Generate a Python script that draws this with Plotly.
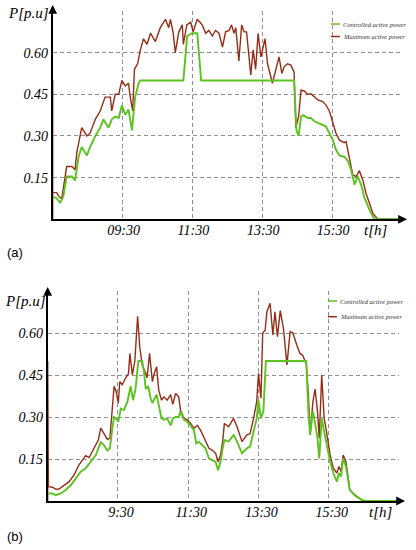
import plotly.graph_objects as go

# ---------------- data (hours, p.u.) ----------------
# (a) maximum active power
T_A_MAX = [7.5, 7.5, 7.5, 7.61, 7.69, 7.76, 7.90, 8.05, 8.14, 8.19, 8.33, 8.48, 8.57, 8.72, 8.86, 9.00,
           9.15, 9.19, 9.29, 9.39, 9.48, 9.58, 9.67, 9.72, 9.79, 9.84, 9.93, 10.01, 10.10, 10.20, 10.30,
           10.44, 10.58, 10.73, 10.82, 10.87, 10.95, 11.01, 11.11, 11.21, 11.24, 11.34, 11.45, 11.52,
           11.64, 11.78, 11.88, 11.97, 12.07, 12.16, 12.26, 12.36, 12.45, 12.55, 12.62, 12.69, 12.74,
           12.83, 12.91, 12.98, 13.05, 13.17, 13.24, 13.31, 13.38, 13.46, 13.52, 13.58, 13.65, 13.74,
           13.79, 13.89, 13.98, 14.06, 14.13, 14.22, 14.32, 14.41, 14.46, 14.54, 14.61, 14.70, 14.80,
           14.89, 14.99, 15.09, 15.23, 15.32, 15.42, 15.52, 15.61, 15.71, 15.85, 15.90, 15.99, 16.09,
           16.19, 16.28, 16.38, 16.47, 16.67, 16.81, 17.53]
P_A_MAX = [0.0, 0.50, 0.096, 0.096, 0.08, 0.075, 0.19, 0.19, 0.178, 0.24, 0.33, 0.30, 0.31, 0.36, 0.39, 0.44,
           0.44, 0.39, 0.45, 0.45, 0.50, 0.48, 0.49, 0.44, 0.39, 0.54, 0.56, 0.61, 0.65, 0.63, 0.67,
           0.64, 0.69, 0.72, 0.69, 0.72, 0.67, 0.60, 0.675, 0.70, 0.63, 0.70, 0.71, 0.675,
           0.72, 0.70, 0.67, 0.68, 0.66, 0.68, 0.67, 0.62, 0.675, 0.68, 0.70, 0.67, 0.69,
           0.57, 0.70, 0.675, 0.675, 0.52, 0.61, 0.54, 0.67, 0.585, 0.62, 0.65, 0.56, 0.515,
           0.49, 0.54, 0.585, 0.525, 0.55, 0.56, 0.555, 0.53, 0.33, 0.37, 0.465, 0.462, 0.45,
           0.452, 0.44, 0.43, 0.424, 0.412, 0.39, 0.35, 0.31, 0.285, 0.276, 0.28, 0.225, 0.16,
           0.154, 0.175, 0.14, 0.094, 0.02, 0.0, 0.0]

# (a) controlled active power
T_A_CTL = [7.5, 7.61, 7.71, 7.80, 7.90, 8.05, 8.14, 8.24, 8.33, 8.48, 8.57, 8.72, 8.86, 8.95, 9.10, 9.19,
           9.29, 9.39, 9.48, 9.58, 9.67, 9.77, 9.86, 9.96, 10.01, 11.24, 11.35, 11.49, 11.64, 11.75,
           14.41, 14.48, 14.54, 14.61, 14.67, 14.80, 14.89, 14.99, 15.09, 15.23, 15.32, 15.42, 15.52,
           15.61, 15.71, 15.85, 15.95, 16.04, 16.14, 16.23, 16.33, 16.42, 16.57, 16.71, 17.53]
P_A_CTL = [0.082, 0.076, 0.06, 0.08, 0.154, 0.154, 0.14, 0.225, 0.26, 0.23, 0.26, 0.30, 0.33, 0.36, 0.33, 0.36,
           0.37, 0.365, 0.41, 0.376, 0.395, 0.32, 0.44, 0.49, 0.50, 0.50, 0.66, 0.67, 0.67, 0.50,
           0.50, 0.32, 0.30, 0.37, 0.375, 0.365, 0.365, 0.353, 0.347, 0.34, 0.335, 0.31, 0.285,
           0.25, 0.23, 0.225, 0.21, 0.18, 0.125, 0.155, 0.125, 0.08, 0.034, 0.0, 0.0]

# (b) maximum active power
T_B_MAX = [7.5, 7.5, 7.52, 7.64, 7.73, 7.82, 7.97, 8.11, 8.25, 8.39, 8.49, 8.58, 8.68, 8.82, 8.94, 9.01,
           9.10, 9.20, 9.27, 9.34, 9.39, 9.45, 9.51, 9.55, 9.62, 9.72, 9.80, 9.84, 9.91, 9.98, 10.06,
           10.12, 10.19, 10.29, 10.33, 10.40, 10.48, 10.52, 10.60, 10.66, 10.74, 10.81, 10.90, 11.00,
           11.06, 11.14, 11.23, 11.28, 11.38, 11.47, 11.57, 11.66, 11.76, 11.85, 11.99, 12.09, 12.18,
           12.28, 12.35, 12.42, 12.48, 12.53, 12.65, 12.79, 12.89, 13.03, 13.17, 13.26, 13.36, 13.45,
           13.50, 13.57, 13.62, 13.69, 13.74, 13.83, 13.91, 13.97, 14.04, 14.12, 14.21, 14.31, 14.40,
           14.48, 14.59, 14.68, 14.76, 14.86, 14.92, 14.97, 15.05, 15.11, 15.18, 15.23, 15.30, 15.37,
           15.42, 15.54, 15.63, 15.73, 15.79, 15.85, 15.91, 15.99, 16.10, 16.25, 16.48, 17.53]
P_B_MAX = [0.0, 0.50, 0.051, 0.049, 0.042, 0.043, 0.057, 0.069, 0.093, 0.129, 0.146, 0.162, 0.155, 0.188, 0.218, 0.26,
           0.24, 0.22, 0.224, 0.32, 0.41, 0.39, 0.35, 0.426, 0.415, 0.44, 0.455, 0.527, 0.45, 0.50, 0.66,
           0.55, 0.486, 0.455, 0.44, 0.527, 0.426, 0.45, 0.48, 0.396, 0.36, 0.372, 0.36, 0.38,
           0.345, 0.384, 0.372, 0.325, 0.295, 0.29, 0.277, 0.26, 0.27, 0.253, 0.218, 0.188, 0.182,
           0.17, 0.14, 0.164, 0.212, 0.277, 0.265, 0.295, 0.265, 0.212, 0.236, 0.24, 0.295, 0.355,
           0.456, 0.367, 0.60, 0.61, 0.676, 0.706, 0.593, 0.676, 0.587, 0.68, 0.617, 0.486, 0.605,
           0.60, 0.557, 0.527, 0.52, 0.49, 0.378, 0.236, 0.355, 0.40, 0.32, 0.224, 0.45, 0.295,
           0.26, 0.164, 0.117, 0.10, 0.123, 0.105, 0.164, 0.14, 0.039, 0.021, 0.0, 0.0]

# (b) controlled active power
T_B_CTL = [7.52, 7.64, 7.73, 7.87, 8.01, 8.16, 8.30, 8.44, 8.58, 8.72, 8.87, 9.01, 9.10, 9.20, 9.27, 9.34,
           9.39, 9.45, 9.51, 9.58, 9.67, 9.77, 9.86, 9.93, 10.00, 10.08, 10.19, 10.24, 10.29, 10.36,
           10.43, 10.48, 10.52, 10.60, 10.66, 10.74, 10.81, 10.90, 11.00, 11.06, 11.14, 11.23, 11.28,
           11.38, 11.47, 11.57, 11.66, 11.73, 11.80, 11.90, 11.99, 12.09, 12.18, 12.28, 12.35, 12.42,
           12.48, 12.53, 12.65, 12.79, 12.89, 13.03, 13.17, 13.26, 13.36, 13.45, 13.50, 13.57, 13.64,
           13.71, 14.86, 14.92, 14.97, 15.05, 15.11, 15.18, 15.23, 15.30, 15.37, 15.44, 15.54, 15.63,
           15.73, 15.79, 15.85, 15.91, 15.99, 16.10, 16.25, 16.44, 16.58, 17.53]
P_B_CTL = [0.027, 0.027, 0.021, 0.027, 0.039, 0.057, 0.081, 0.105, 0.117, 0.14, 0.164, 0.21, 0.20, 0.18, 0.188, 0.26,
           0.30, 0.295, 0.283, 0.33, 0.325, 0.355, 0.41, 0.36, 0.40, 0.50, 0.50, 0.462, 0.40, 0.41,
           0.366, 0.35, 0.36, 0.38, 0.343, 0.295, 0.29, 0.295, 0.27, 0.295, 0.30, 0.30, 0.32,
           0.29, 0.283, 0.27, 0.253, 0.206, 0.212, 0.20, 0.188, 0.152, 0.146, 0.14, 0.11, 0.14,
           0.188, 0.218, 0.212, 0.236, 0.212, 0.17, 0.188, 0.194, 0.248, 0.295, 0.36, 0.295, 0.32,
           0.50, 0.50, 0.32, 0.236, 0.32, 0.28, 0.224, 0.152, 0.295, 0.248, 0.20, 0.14, 0.10,
           0.069, 0.10, 0.087, 0.152, 0.123, 0.039, 0.019, 0.004, 0.0, 0.0]

X_TICKS = [9.5, 11.5, 13.5, 15.5, 17.5]
X_LABELS_A = ["09:30", "11:30", "13:30", "15:30", ""]
X_LABELS_B = ["9:30", "11:30", "13:30", "15:30", ""]
Y_TICKS = [0.15, 0.30, 0.45, 0.60, 0.75]
Y_LABELS = ["0.15", "0.30", "0.45", "0.60", ""]
SERIES_NAMES = ["Controlled active power", "Maximum active power"]

# ---------------- styling ----------------
W, H = 416, 550
RED = "#962c16"
GREEN = "#5cc31e"
GRID = "#8f8f8f"
GRIDDASH = "4px,3px"
SERIF = "Liberation Serif"

def px_x(p):
    return p / W

def px_y(p):
    return 1 - p / H

fig = go.Figure()

fig.add_trace(go.Scatter(x=T_A_MAX, y=P_A_MAX, mode="lines", name=SERIES_NAMES[1],
                         line=dict(color=RED, width=1.4), xaxis="x", yaxis="y", showlegend=False))
fig.add_trace(go.Scatter(x=T_A_CTL, y=P_A_CTL, mode="lines", name=SERIES_NAMES[0],
                         line=dict(color=GREEN, width=1.9), xaxis="x", yaxis="y", showlegend=False))
fig.add_trace(go.Scatter(x=T_B_MAX, y=P_B_MAX, mode="lines", name=SERIES_NAMES[1],
                         line=dict(color=RED, width=1.4), xaxis="x2", yaxis="y2", showlegend=False))
fig.add_trace(go.Scatter(x=T_B_CTL, y=P_B_CTL, mode="lines", name=SERIES_NAMES[0],
                         line=dict(color=GREEN, width=1.9), xaxis="x2", yaxis="y2", showlegend=False))

tickfont = dict(family=SERIF, size=14, style="italic", color="black")
common_x = dict(range=[7.5, 17.5], tickvals=X_TICKS, showgrid=True, gridcolor=GRID, griddash=GRIDDASH,
                gridwidth=1, showline=True, linecolor="black", linewidth=2, zeroline=False,
                ticks="", tickfont=tickfont, fixedrange=True, automargin=False,
                ticklabelstandoff=-3)
common_y = dict(range=[0, 0.75], tickvals=Y_TICKS, ticktext=Y_LABELS, showgrid=True, gridcolor=GRID,
                griddash=GRIDDASH, gridwidth=1, showline=True, linecolor="black", linewidth=2,
                zeroline=False, ticks="", tickfont=tickfont, fixedrange=True, automargin=False)

# pixel geometry of the two panels
A_L, A_R, A_B, A_T = 52.7, 402.0, 219.3, 11.0
B_L, B_R, B_B, B_T = 47.7, 399.0, 501.0, 291.0

fig.update_layout(
    width=W, height=H, margin=dict(l=0, r=0, t=0, b=0),
    paper_bgcolor="white", plot_bgcolor="white",
    xaxis=dict(domain=[px_x(A_L), px_x(A_R)], anchor="y", ticktext=X_LABELS_A,
               ticklabelshift=1, **common_x),
    yaxis=dict(domain=[px_y(A_B), px_y(A_T)], anchor="x", **common_y),
    xaxis2=dict(domain=[px_x(B_L), px_x(B_R)], anchor="y2", ticktext=X_LABELS_B,
                ticklabelshift=3, **common_x),
    yaxis2=dict(domain=[px_y(B_B), px_y(B_T)], anchor="x2", **common_y),
)

ann = []
# axis arrows
for (xl, yb, yt_tip, xr_tip) in [(A_L, A_B, 5, 407), (B_L, B_B, 287, 405)]:
    ann.append(dict(x=px_x(xl), y=px_y(yt_tip), ax=0, ay=9,
                    text="", showarrow=True, arrowhead=2, arrowsize=1.1, arrowwidth=1.6,
                    arrowcolor="black"))
    ann.append(dict(x=px_x(xr_tip), y=px_y(yb), ax=-9, ay=0,
                    text="", showarrow=True, arrowhead=2, arrowsize=1.1, arrowwidth=1.6,
                    arrowcolor="black"))

labfont = dict(family=SERIF, size=15, style="italic", color="black")
sansfont = dict(family="Liberation Sans", size=13, color="black")
ann += [
    dict(x=px_x(28.5), y=px_y(13), text="P[p.u]", font=labfont),
    dict(x=px_x(25), y=px_y(301), text="P[p.u]", font=labfont),
    dict(x=px_x(376), y=px_y(230), text="t[h]", font=labfont),
    dict(x=px_x(381), y=px_y(512), text="t[h]", font=labfont),
    dict(x=px_x(15), y=px_y(252), text="(a)", font=sansfont),
    dict(x=px_x(14.5), y=px_y(536), text="(b)", font=sansfont),
]

# legends
legfont = dict(family=SERIF, size=6.5, style="italic", color="#333333")
shapes = []
for (x0, x1, y_c, y_m) in [(331, 340, 24, 36.5), (328, 337, 301, 316.7)]:
    for yy, col, name in [(y_c, GREEN, SERIES_NAMES[0]), (y_m, RED, SERIES_NAMES[1])]:
        shapes.append(dict(type="line", xref="paper", yref="paper", x0=px_x(x0), x1=px_x(x1),
                           y0=px_y(yy), y1=px_y(yy), line=dict(color=col, width=1.5)))
        ann.append(dict(x=px_x(x1 + 0.5), y=px_y(yy), text=name, font=legfont, xanchor="left"))

for a in ann:
    a.setdefault("xref", "paper")
    a.setdefault("yref", "paper")
    a.setdefault("showarrow", False)
    a.setdefault("xanchor", "center")
    a.setdefault("yanchor", "middle")

fig.update_layout(annotations=ann, shapes=shapes)

fig.write_html("out.html", config={"displayModeBar": False},
               post_script="document.body.style.margin='0';document.body.style.overflow='hidden';")
